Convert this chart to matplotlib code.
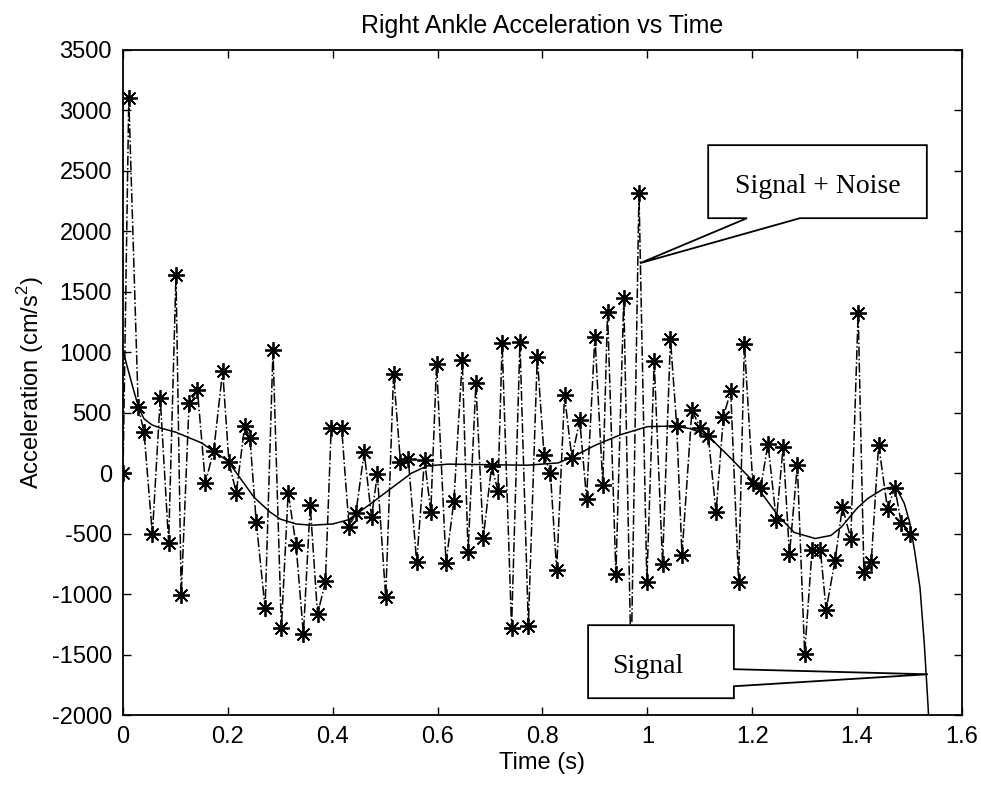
import matplotlib
matplotlib.use("Agg")
import matplotlib.pyplot as plt
from matplotlib.patches import Polygon

# ---------------- data ----------------
t_noise = [0.000, 0.011, 0.029, 0.040, 0.056, 0.071, 0.087, 0.101, 0.111, 0.126,
           0.142, 0.157, 0.173, 0.190, 0.202, 0.216, 0.232, 0.242, 0.254, 0.271,
           0.286, 0.302, 0.315, 0.330, 0.344, 0.357, 0.371, 0.386, 0.397, 0.417,
           0.431, 0.444, 0.460, 0.474, 0.485, 0.501, 0.516, 0.529, 0.544, 0.560,
           0.575, 0.587, 0.598, 0.616, 0.631, 0.647, 0.658, 0.673, 0.687, 0.703,
           0.715, 0.723, 0.741, 0.757, 0.773, 0.790, 0.803, 0.815, 0.827, 0.842,
           0.856, 0.871, 0.884, 0.900, 0.915, 0.924, 0.940, 0.955, 0.969, 0.984,
           0.999, 1.013, 1.029, 1.044, 1.056, 1.066, 1.085, 1.101, 1.116, 1.131,
           1.145, 1.159, 1.174, 1.185, 1.201, 1.216, 1.230, 1.246, 1.259, 1.271,
           1.286, 1.300, 1.314, 1.330, 1.341, 1.358, 1.372, 1.388, 1.402, 1.413,
           1.427, 1.441, 1.458, 1.472, 1.484, 1.500]
a_noise = [0, 3100, 547, 342, -504, 619, -576, 1638, -1008, 583,
           684, -79, 187, 846, 90, -162, 390, 295, -400, -1118,
           1018, -1282, -160, -595, -1330, -266, -1168, -895, 372, 372,
           -441, -332, 176, -363, -10, -1028, 823, 96, 120, -735,
           112, -319, 905, -742, -230, 939, -650, 742, -537, 62,
           -146, 1078, -1279, 1085, -1261, 961, 148, 5, -800, 645,
           125, 440, -210, 1130, -95, 1335, -835, 1450, -1600, 2320,
           -900, 925, -750, 1112, 388, -674, 524, 372, 310, -325,
           468, 678, -900, 1072, -82, -124, 244, -390, 216, -671,
           65, -1496, -637, -637, -1132, -717, -281, -542, 1327, -821,
           -735, 237, -296, -119, -409, -504]

t_signal = [0.000, 0.010, 0.020, 0.030, 0.040, 0.055, 0.070, 0.100, 0.150, 0.200,
            0.230, 0.250, 0.280, 0.300, 0.330, 0.360, 0.400, 0.430, 0.470, 0.510,
            0.550, 0.580, 0.620, 0.700, 0.770, 0.830, 0.860, 0.900, 0.950, 1.000,
            1.050, 1.080, 1.100, 1.120, 1.160, 1.200, 1.250, 1.280, 1.320, 1.350,
            1.370, 1.400, 1.420, 1.450, 1.466, 1.478, 1.490, 1.500, 1.510, 1.520,
            1.528, 1.535, 1.540]
a_signal = [1010, 850, 690, 540, 450, 400, 375, 340, 250, 100,
            -80, -200, -320, -380, -420, -430, -420, -385, -260, -130,
            0, 60, 75, 70, 66, 85, 140, 230, 320, 385,
            390, 370, 340, 290, 120, -60, -355, -490, -540, -515,
            -445, -290, -210, -130, -115, -150, -250, -400, -650, -950,
            -1400, -1900, -2300]

x_ticks = [0, 0.2, 0.4, 0.6, 0.8, 1, 1.2, 1.4, 1.6]
x_tick_labels = ["0", "0.2", "0.4", "0.6", "0.8", "1", "1.2", "1.4", "1.6"]
y_ticks = [-2000, -1500, -1000, -500, 0, 500, 1000, 1500, 2000, 2500, 3000, 3500]

title = "Right Ankle Acceleration vs Time"
x_label = "Time (s)"
y_label = "Acceleration (cm/s$^2$)"
label_noise = "Signal + Noise"
label_signal = "Signal"

# ---------------- figure ----------------
plt.rcParams["font.family"] = ["Liberation Sans", "DejaVu Sans"]
plt.rcParams["mathtext.fontset"] = "custom"
plt.rcParams["mathtext.rm"] = "Liberation Sans"
plt.rcParams["axes.unicode_minus"] = False

fig = plt.figure(figsize=(9.81, 7.86), dpi=100)
ax = fig.add_axes([0.1254, 0.0903, 0.8552, 0.8461])

ax.plot(t_noise, a_noise, linestyle="-.", color="black", linewidth=1.1,
        marker=(8, 2, 0), markersize=12, markeredgewidth=1.3,
        markeredgecolor="black", zorder=3)
ax.plot(t_signal, a_signal, linestyle="-", color="black", linewidth=1.1, zorder=4)

ax.set_xlim(0, 1.6)
ax.set_ylim(-2000, 3500)
ax.set_xticks(x_ticks)
ax.set_xticklabels(x_tick_labels)
ax.set_yticks(y_ticks)
ax.tick_params(direction="in", length=6, width=1.0, top=True, right=True,
               labelsize=17, pad=8, colors="black")
for s in ax.spines.values():
    s.set_linewidth(1.3)

ax.set_title(title, fontsize=18, pad=12)
ax.set_xlabel(x_label, fontsize=17, labelpad=3)
ax.set_ylabel(y_label, fontsize=17, labelpad=4)

# callout: Signal + Noise
bx0, bx1, by0, by1 = 1.116, 1.533, 2109, 2713
tip = (0.986, 1737)
poly1 = Polygon([(bx0, by1), (bx1, by1), (bx1, by0), (1.291, by0), tip,
                 (1.190, by0), (bx0, by0)], closed=True, facecolor="white",
                edgecolor="black", linewidth=1.3, zorder=6)
ax.add_patch(poly1)
ax.text((bx0 + bx1) / 2, (by0 + by1) / 2 - 40, label_noise, fontsize=20,
        family=["Liberation Serif", "DejaVu Serif"], ha="center", va="center", zorder=7)

# callout: Signal
cx0, cx1, cy0, cy1 = 0.887, 1.165, -1861, -1257
tip2 = (1.535, -1663)
poly2 = Polygon([(cx0, cy1), (cx1, cy1), (cx1, -1621), tip2, (cx1, -1762),
                 (cx1, cy0), (cx0, cy0)], closed=True, facecolor="white",
                edgecolor="black", linewidth=1.3, zorder=6, clip_on=False)
ax.add_patch(poly2)
ax.text(0.933, -1600, label_signal, fontsize=20,
        family=["Liberation Serif", "DejaVu Serif"], ha="left", va="center", zorder=7)

fig.savefig("out.png", dpi=100)
